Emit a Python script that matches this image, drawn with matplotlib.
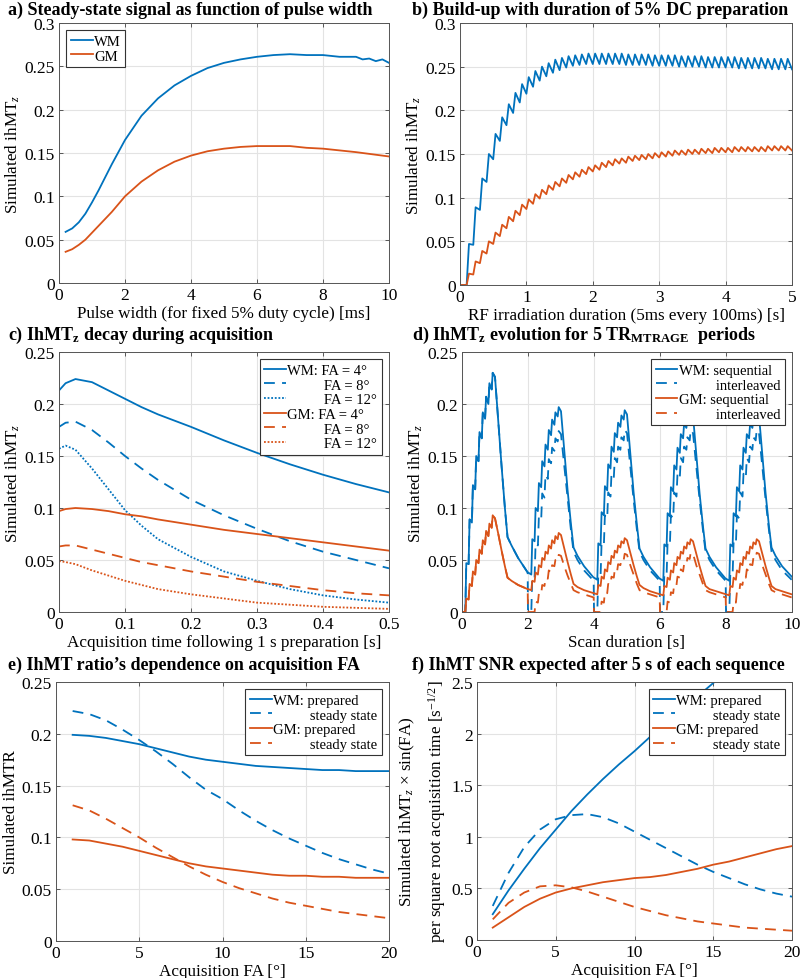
import numpy as np
import matplotlib
matplotlib.use('Agg')
import matplotlib.pyplot as plt
from matplotlib.ticker import FuncFormatter

plt.rcParams['font.family'] = ['Liberation Serif', 'DejaVu Serif']
plt.rcParams['mathtext.fontset'] = 'custom'
plt.rcParams['mathtext.rm'] = 'Liberation Serif'
plt.rcParams['mathtext.it'] = 'Liberation Serif:italic'
plt.rcParams['mathtext.bf'] = 'Liberation Serif:bold'

blue = '#0072BD'
orange = '#D95319'

# a) steady-state vs pulse width
a_x = [0.2, 0.4, 0.6, 0.8, 1.0, 1.2, 1.4, 1.6, 1.8, 2.0, 2.5, 3.0, 3.5, 4.0, 4.5, 5.0,
       5.5, 6.0, 6.5, 7.0, 7.5, 8.0, 8.5, 9.0, 9.2, 9.4, 9.6, 9.8, 10.0]
a_wm = [0.059, 0.063, 0.070, 0.080, 0.093, 0.107, 0.122, 0.137, 0.151, 0.165, 0.193, 0.213,
        0.228, 0.239, 0.248, 0.254, 0.258, 0.261, 0.263, 0.264, 0.263, 0.263, 0.261, 0.261,
        0.258, 0.259, 0.256, 0.258, 0.254]
a_gm = [0.036, 0.039, 0.044, 0.050, 0.058, 0.066, 0.074, 0.082, 0.091, 0.100, 0.117, 0.130,
        0.140, 0.147, 0.152, 0.155, 0.157, 0.158, 0.158, 0.158, 0.156, 0.155, 0.153, 0.151,
        0.150, 0.149, 0.148, 0.147, 0.146]

# b) build-up, pulses every 100 ms: value just before each pulse and just after
b_pulse_t = np.round(np.arange(1, 51) * 0.1, 2)
b_wm_trough = [0.000, 0.046, 0.086, 0.118, 0.144, 0.165, 0.183, 0.197, 0.209, 0.219,
               0.227, 0.234, 0.239, 0.243, 0.246, 0.249, 0.251, 0.252, 0.253, 0.253,
               0.253, 0.253, 0.253, 0.253, 0.252, 0.252, 0.252, 0.252, 0.251, 0.251,
               0.251, 0.251, 0.250, 0.250, 0.250, 0.250, 0.249, 0.249, 0.249, 0.249,
               0.249, 0.248, 0.248, 0.248, 0.248, 0.248, 0.247, 0.247, 0.247, 0.247]
b_wm_peak = [0.047, 0.089, 0.122, 0.150, 0.173, 0.192, 0.207, 0.220, 0.230, 0.238,
             0.245, 0.250, 0.254, 0.258, 0.260, 0.262, 0.263, 0.264, 0.265, 0.265,
             0.265, 0.265, 0.265, 0.265, 0.264, 0.264, 0.264, 0.264, 0.263, 0.263,
             0.263, 0.263, 0.262, 0.262, 0.262, 0.262, 0.261, 0.261, 0.261, 0.261,
             0.261, 0.260, 0.260, 0.260, 0.260, 0.259, 0.259, 0.259, 0.259]
b_gm_trough = [0.000, 0.012, 0.025, 0.036, 0.047, 0.056, 0.065, 0.073, 0.080, 0.087,
               0.093, 0.099, 0.104, 0.109, 0.113, 0.117, 0.121, 0.124, 0.127, 0.130,
               0.132, 0.135, 0.137, 0.139, 0.140, 0.142, 0.143, 0.144, 0.145, 0.146,
               0.147, 0.148, 0.149, 0.149, 0.150, 0.150, 0.151, 0.151, 0.152, 0.152,
               0.152, 0.153, 0.153, 0.153, 0.153, 0.153, 0.154, 0.154, 0.154, 0.154]
b_gm_peak = [0.013, 0.027, 0.039, 0.050, 0.060, 0.069, 0.078, 0.085, 0.092, 0.098,
             0.104, 0.109, 0.114, 0.118, 0.122, 0.126, 0.129, 0.132, 0.135, 0.137,
             0.140, 0.142, 0.144, 0.145, 0.147, 0.148, 0.149, 0.150, 0.151, 0.152,
             0.153, 0.154, 0.154, 0.155, 0.155, 0.156, 0.156, 0.157, 0.157, 0.157,
             0.158, 0.158, 0.158, 0.158, 0.158, 0.159, 0.159, 0.159, 0.159]

# c) decay during acquisition
c_t = [0.0, 0.01, 0.025, 0.05, 0.075, 0.1, 0.125, 0.15, 0.2, 0.25, 0.3, 0.35, 0.4, 0.45, 0.5]
c_wm4 = [0.213, 0.220, 0.224, 0.221, 0.213, 0.205, 0.197, 0.190, 0.178, 0.165, 0.153, 0.142, 0.132, 0.123, 0.115]
c_wm8 = [0.178, 0.182, 0.183, 0.175, 0.163, 0.150, 0.138, 0.127, 0.108, 0.093, 0.080, 0.068, 0.058, 0.050, 0.042]
c_wm12 = [0.157, 0.160, 0.156, 0.138, 0.118, 0.098, 0.083, 0.070, 0.053, 0.039, 0.030, 0.022, 0.016, 0.012, 0.009]
c_gm4 = [0.097, 0.099, 0.100, 0.099, 0.097, 0.094, 0.092, 0.089, 0.084, 0.079, 0.075, 0.071, 0.067, 0.063, 0.059]
c_gm8 = [0.063, 0.064, 0.064, 0.060, 0.056, 0.052, 0.048, 0.045, 0.039, 0.034, 0.029, 0.025, 0.021, 0.018, 0.016]
c_gm12 = [0.049, 0.048, 0.046, 0.040, 0.035, 0.030, 0.026, 0.022, 0.017, 0.013, 0.009, 0.007, 0.005, 0.004, 0.003]

# d) 5 TR periods of 2 s, values at these offsets inside each period
d_offs = [0.0, 0.1, 0.13, 0.2, 0.23, 0.3, 0.33, 0.4, 0.43, 0.5, 0.53, 0.6, 0.63, 0.7, 0.73,
          0.8, 0.83, 0.9, 0.93, 1.0, 1.1, 1.2, 1.3, 1.38, 1.5, 1.7, 1.99]
d_wm_seq = [
    [0, 0, 0.047, 0.046, 0.089, 0.086, 0.122, 0.118, 0.150, 0.145, 0.173, 0.167, 0.192, 0.186,
     0.207, 0.200, 0.220, 0.214, 0.230, 0.226, 0.183, 0.140, 0.100, 0.072, 0.064, 0.052, 0.038],
    [0.038, 0.036, 0.070, 0.068, 0.100, 0.097, 0.124, 0.120, 0.145, 0.140, 0.161, 0.156, 0.175, 0.170,
     0.185, 0.180, 0.192, 0.188, 0.197, 0.193, 0.155, 0.117, 0.085, 0.062, 0.054, 0.044, 0.033],
    [0.033, 0.031, 0.066, 0.064, 0.096, 0.093, 0.121, 0.117, 0.142, 0.138, 0.159, 0.154, 0.172, 0.168,
     0.182, 0.178, 0.189, 0.185, 0.194, 0.190, 0.152, 0.115, 0.084, 0.061, 0.053, 0.043, 0.032],
    [0.032, 0.030, 0.065, 0.063, 0.095, 0.092, 0.120, 0.116, 0.141, 0.137, 0.158, 0.153, 0.171, 0.167,
     0.181, 0.177, 0.188, 0.184, 0.193, 0.189, 0.151, 0.114, 0.083, 0.061, 0.053, 0.043, 0.032],
    [0.032, 0.030, 0.065, 0.063, 0.095, 0.092, 0.120, 0.116, 0.141, 0.137, 0.158, 0.153, 0.171, 0.167,
     0.181, 0.177, 0.188, 0.184, 0.193, 0.189, 0.151, 0.114, 0.083, 0.062, 0.054, 0.044, 0.034],
]
d_wm_int = [
    d_wm_seq[0],
    [0, 0, 0.035, 0.034, 0.066, 0.064, 0.092, 0.089, 0.114, 0.110, 0.132, 0.128, 0.147, 0.143,
     0.158, 0.155, 0.167, 0.164, 0.174, 0.171, 0.140, 0.108, 0.079, 0.058, 0.050, 0.040, 0.030],
    [0, 0, 0.036, 0.035, 0.067, 0.065, 0.093, 0.090, 0.115, 0.111, 0.133, 0.129, 0.148, 0.144,
     0.159, 0.156, 0.168, 0.165, 0.175, 0.172, 0.140, 0.108, 0.079, 0.058, 0.050, 0.040, 0.030],
    [0, 0, 0.036, 0.035, 0.067, 0.065, 0.093, 0.090, 0.115, 0.111, 0.133, 0.129, 0.148, 0.144,
     0.159, 0.156, 0.168, 0.165, 0.175, 0.172, 0.140, 0.108, 0.079, 0.058, 0.050, 0.040, 0.030],
    [0, 0, 0.036, 0.035, 0.067, 0.065, 0.093, 0.090, 0.115, 0.111, 0.133, 0.129, 0.148, 0.144,
     0.159, 0.156, 0.168, 0.165, 0.175, 0.172, 0.140, 0.108, 0.079, 0.058, 0.050, 0.040, 0.031],
]
d_gm_seq = [
    [0, 0, 0.013, 0.012, 0.027, 0.025, 0.039, 0.036, 0.050, 0.047, 0.060, 0.056, 0.069, 0.065,
     0.078, 0.073, 0.085, 0.081, 0.093, 0.090, 0.075, 0.059, 0.044, 0.033, 0.030, 0.026, 0.022],
    [0.022, 0.021, 0.030, 0.029, 0.038, 0.036, 0.045, 0.043, 0.052, 0.050, 0.058, 0.056, 0.064, 0.061,
     0.069, 0.066, 0.073, 0.070, 0.076, 0.074, 0.061, 0.048, 0.036, 0.027, 0.024, 0.021, 0.018],
    [0.018, 0.017, 0.026, 0.025, 0.034, 0.032, 0.041, 0.039, 0.048, 0.046, 0.054, 0.052, 0.059, 0.057,
     0.064, 0.062, 0.068, 0.066, 0.071, 0.069, 0.057, 0.045, 0.034, 0.026, 0.023, 0.020, 0.017],
    [0.017, 0.016, 0.025, 0.024, 0.033, 0.031, 0.040, 0.038, 0.047, 0.045, 0.053, 0.051, 0.058, 0.056,
     0.063, 0.061, 0.067, 0.065, 0.070, 0.068, 0.056, 0.044, 0.033, 0.025, 0.022, 0.020, 0.017],
    [0.017, 0.016, 0.025, 0.024, 0.033, 0.031, 0.040, 0.038, 0.047, 0.045, 0.053, 0.051, 0.058, 0.056,
     0.063, 0.061, 0.067, 0.065, 0.070, 0.068, 0.056, 0.044, 0.033, 0.025, 0.022, 0.020, 0.017],
]
d_gm_int = [
    d_gm_seq[0],
    [0, 0, 0, 0, 0.010, 0.009, 0.018, 0.017, 0.026, 0.025, 0.033, 0.032, 0.040, 0.038,
     0.045, 0.044, 0.050, 0.049, 0.055, 0.054, 0.044, 0.035, 0.027, 0.021, 0.019, 0.017, 0.014],
    [0, 0, 0, 0, 0.010, 0.009, 0.019, 0.018, 0.027, 0.026, 0.034, 0.033, 0.041, 0.039,
     0.046, 0.045, 0.051, 0.050, 0.056, 0.055, 0.045, 0.036, 0.027, 0.021, 0.019, 0.017, 0.014],
    [0, 0, 0, 0, 0.010, 0.009, 0.019, 0.018, 0.027, 0.026, 0.034, 0.033, 0.041, 0.039,
     0.046, 0.045, 0.052, 0.051, 0.057, 0.056, 0.045, 0.036, 0.027, 0.021, 0.019, 0.017, 0.014],
    [0, 0, 0, 0, 0.010, 0.009, 0.019, 0.018, 0.027, 0.026, 0.034, 0.033, 0.041, 0.039,
     0.046, 0.045, 0.052, 0.051, 0.057, 0.056, 0.045, 0.036, 0.027, 0.021, 0.019, 0.017, 0.014],
]

# e) ihMTR vs FA
e_fa = list(range(1, 21))
e_wm_prep = [0.199, 0.198, 0.196, 0.193, 0.190, 0.186, 0.182, 0.178, 0.175, 0.173,
             0.171, 0.169, 0.168, 0.167, 0.166, 0.165, 0.165, 0.164, 0.164, 0.164]
e_wm_ss = [0.222, 0.219, 0.213, 0.204, 0.194, 0.183, 0.171, 0.158, 0.146, 0.137,
           0.126, 0.116, 0.107, 0.099, 0.092, 0.085, 0.079, 0.074, 0.069, 0.065]
e_gm_prep = [0.098, 0.097, 0.094, 0.091, 0.087, 0.083, 0.079, 0.075, 0.072, 0.070,
             0.068, 0.066, 0.064, 0.063, 0.063, 0.062, 0.062, 0.061, 0.061, 0.061]
e_gm_ss = [0.131, 0.126, 0.118, 0.109, 0.100, 0.090, 0.081, 0.072, 0.064, 0.057,
           0.051, 0.046, 0.041, 0.037, 0.034, 0.031, 0.028, 0.026, 0.024, 0.022]

# f) SNR vs FA
f_fa = list(range(1, 21))
f_wm_prep = [0.25, 0.48, 0.69, 0.89, 1.07, 1.25, 1.41, 1.56, 1.70, 1.83,
             1.97, 2.10, 2.23, 2.36, 2.49, 2.62, 2.74, 2.86, 2.98, 3.10]
f_wm_ss = [0.33, 0.65, 0.90, 1.07, 1.17, 1.21, 1.22, 1.19, 1.13, 1.05,
           0.97, 0.89, 0.81, 0.73, 0.66, 0.60, 0.54, 0.49, 0.45, 0.42]
f_gm_prep = [0.12, 0.22, 0.32, 0.40, 0.46, 0.50, 0.53, 0.56, 0.58, 0.60,
             0.61, 0.63, 0.66, 0.69, 0.73, 0.76, 0.80, 0.84, 0.88, 0.91]
f_gm_ss = [0.20, 0.36, 0.46, 0.52, 0.53, 0.51, 0.47, 0.42, 0.37, 0.32,
           0.28, 0.24, 0.21, 0.18, 0.16, 0.14, 0.12, 0.11, 0.10, 0.09]

lw = 1.3
dash = (0, (6, 4))
fs_tick = 12.5
fs_lab = 12.3
fs_title = 13
fs_leg = 10.5
fmt = FuncFormatter(lambda v, p: '%g' % round(v, 6))
sp = '\u2002' * 5  # indent for the continuation rows of the legends


def style(ax, xlim, ylim, xt, yt):
    ax.set_xlim(xlim)
    ax.set_ylim(ylim)
    ax.set_xticks(xt)
    ax.set_yticks(yt)
    ax.xaxis.set_major_formatter(fmt)
    ax.yaxis.set_major_formatter(fmt)
    ax.grid(True, color='#e3e3e3', lw=0.8)
    ax.set_axisbelow(True)
    ax.tick_params(direction='in', top=True, right=True, labelsize=fs_tick,
                   length=3, width=0.6, color='#404040', pad=3)
    for s in ax.spines.values():
        s.set_color('#555555')
        s.set_linewidth(0.7)


def legend(ax, **kw):
    leg = ax.legend(fontsize=fs_leg, handlelength=1.5, fancybox=False, framealpha=1,
                    edgecolor='#333333', borderpad=0.3, labelspacing=0.1,
                    handletextpad=0.1, borderaxespad=0.5, **kw)
    leg.get_frame().set_linewidth(0.8)
    return leg


fig = plt.figure(figsize=(8, 9.79), dpi=100)
H = 979.0
W = 800.0


def add_ax(l, t, r, b):
    return fig.add_axes([l / W, 1 - b / H, (r - l) / W, (b - t) / H])


# a
ax = add_ax(59, 24, 389, 284)
ax.plot(a_x, a_wm, color=blue, lw=lw, label='WM')
ax.plot(a_x, a_gm, color=orange, lw=lw, label='GM')
style(ax, (0, 10), (0, 0.3), [0, 2, 4, 6, 8, 10], np.arange(0, 0.31, 0.05))
ax.set_xlabel('Pulse width (for fixed 5% duty cycle) [ms]', fontsize=fs_lab, labelpad=1)
ax.set_ylabel('Simulated ihMT$_z$', fontsize=fs_lab, labelpad=2)
legend(ax, loc='upper left')

# b
bx = [0.0]
b_wm = [0.0]
b_gm = [0.0]
for k in range(len(b_wm_peak)):
    bx += [b_pulse_t[k], b_pulse_t[k] + 0.035]
    b_wm += [b_wm_trough[k], b_wm_peak[k]]
    b_gm += [b_gm_trough[k], b_gm_peak[k]]
bx.append(b_pulse_t[-1])
b_wm.append(b_wm_trough[-1])
b_gm.append(b_gm_trough[-1])
ax = add_ax(460, 24, 792, 286)
ax.plot(bx, b_wm, color=blue, lw=lw)
ax.plot(bx, b_gm, color=orange, lw=lw)
style(ax, (0, 5), (0, 0.3), range(6), np.arange(0, 0.31, 0.05))
ax.set_xlabel('RF irradiation duration (5ms every 100ms) [s]', fontsize=fs_lab, labelpad=1)
ax.set_ylabel('Simulated ihMT$_z$', fontsize=fs_lab, labelpad=2)

# c
ax = add_ax(59, 353, 389, 613)
ax.plot(c_t, c_wm4, color=blue, lw=lw, label='WM: FA = 4°')
ax.plot(c_t, c_wm8, color=blue, lw=lw, ls=dash, label=sp + 'FA = 8°')
ax.plot(c_t, c_wm12, color=blue, lw=lw, ls=(0, (1, 1)), label=sp + 'FA = 12°')
ax.plot(c_t, c_gm4, color=orange, lw=lw, label='GM: FA = 4°')
ax.plot(c_t, c_gm8, color=orange, lw=lw, ls=dash, label=sp + 'FA = 8°')
ax.plot(c_t, c_gm12, color=orange, lw=lw, ls=(0, (1, 1)), label=sp + 'FA = 12°')
style(ax, (0, 0.5), (0, 0.25), np.arange(0, 0.51, 0.1), np.arange(0, 0.26, 0.05))
ax.set_xlabel('Acquisition time following 1 s preparation [s]', fontsize=fs_lab, labelpad=1)
ax.set_ylabel('Simulated ihMT$_z$', fontsize=fs_lab, labelpad=2)
legend(ax, loc='upper right')

# d
dx = []
for p in range(5):
    dx += [o + 2 * p for o in d_offs]
flat = lambda rows: [v for r in rows for v in r]
ax = add_ax(462, 353, 792, 613)
ax.plot(dx, flat(d_wm_seq), color=blue, lw=lw, label='WM: sequential')
ax.plot(dx, flat(d_wm_int), color=blue, lw=lw, ls=dash, label=sp + 'interleaved')
ax.plot(dx, flat(d_gm_seq), color=orange, lw=lw, label='GM: sequential')
ax.plot(dx, flat(d_gm_int), color=orange, lw=lw, ls=dash, label=sp + 'interleaved')
style(ax, (0, 10), (0, 0.25), [0, 2, 4, 6, 8, 10], np.arange(0, 0.26, 0.05))
ax.set_xlabel('Scan duration [s]', fontsize=fs_lab, labelpad=1)
ax.set_ylabel('Simulated ihMT$_z$', fontsize=fs_lab, labelpad=2)
legend(ax, loc='upper right')

# e
ax = add_ax(56, 683, 389, 942)
ax.plot(e_fa, e_wm_prep, color=blue, lw=lw, label='WM: prepared')
ax.plot(e_fa, e_wm_ss, color=blue, lw=lw, ls=dash, label=sp + 'steady state')
ax.plot(e_fa, e_gm_prep, color=orange, lw=lw, label='GM: prepared')
ax.plot(e_fa, e_gm_ss, color=orange, lw=lw, ls=dash, label=sp + 'steady state')
style(ax, (0, 20), (0, 0.25), [0, 5, 10, 15, 20], np.arange(0, 0.26, 0.05))
ax.set_xlabel('Acquisition FA [°]', fontsize=fs_lab, labelpad=1)
ax.set_ylabel('Simulated ihMTR', fontsize=fs_lab, labelpad=2)
legend(ax, loc='upper right')

# f
ax = add_ax(477, 683, 792, 941)
ax.plot(f_fa, f_wm_prep, color=blue, lw=lw, label='WM: prepared')
ax.plot(f_fa, f_wm_ss, color=blue, lw=lw, ls=dash, label=sp + 'steady state')
ax.plot(f_fa, f_gm_prep, color=orange, lw=lw, label='GM: prepared')
ax.plot(f_fa, f_gm_ss, color=orange, lw=lw, ls=dash, label=sp + 'steady state')
style(ax, (0, 20), (0, 2.5), [0, 5, 10, 15, 20], np.arange(0, 2.51, 0.5))
ax.set_xlabel('Acquisition FA [°]', fontsize=fs_lab, labelpad=1)
ax.set_ylabel('Simulated ihMT$_z$ $\\times$ sin(FA)\nper square root acquisition time [s$^{-1/2}$]',
              fontsize=fs_lab, labelpad=2, linespacing=1.6)
legend(ax, loc='upper right')

# panel titles
titles = [
    (8, 10, 'a) Steady-state signal as function of pulse width'),
    (412, 10, 'b) Build-up with duration of 5% DC preparation'),
    (8, 335, 'c) IhMT$_\\mathbf{z}$ decay during acquisition'),
    (412, 335, 'd) IhMT$_\\mathbf{z}$ evolution for 5 TR$_\\mathbf{MTRAGE}$  periods'),
    (8, 665, 'e) IhMT ratio\u2019s dependence on acquisition FA'),
    (412, 665, 'f) IhMT SNR expected after 5 s of each sequence'),
]
for x, y, s in titles:
    fig.text(x / W, 1 - y / H, s, fontsize=fs_title, fontweight='bold', ha='left', va='center')

fig.savefig('out.png', dpi=100)
